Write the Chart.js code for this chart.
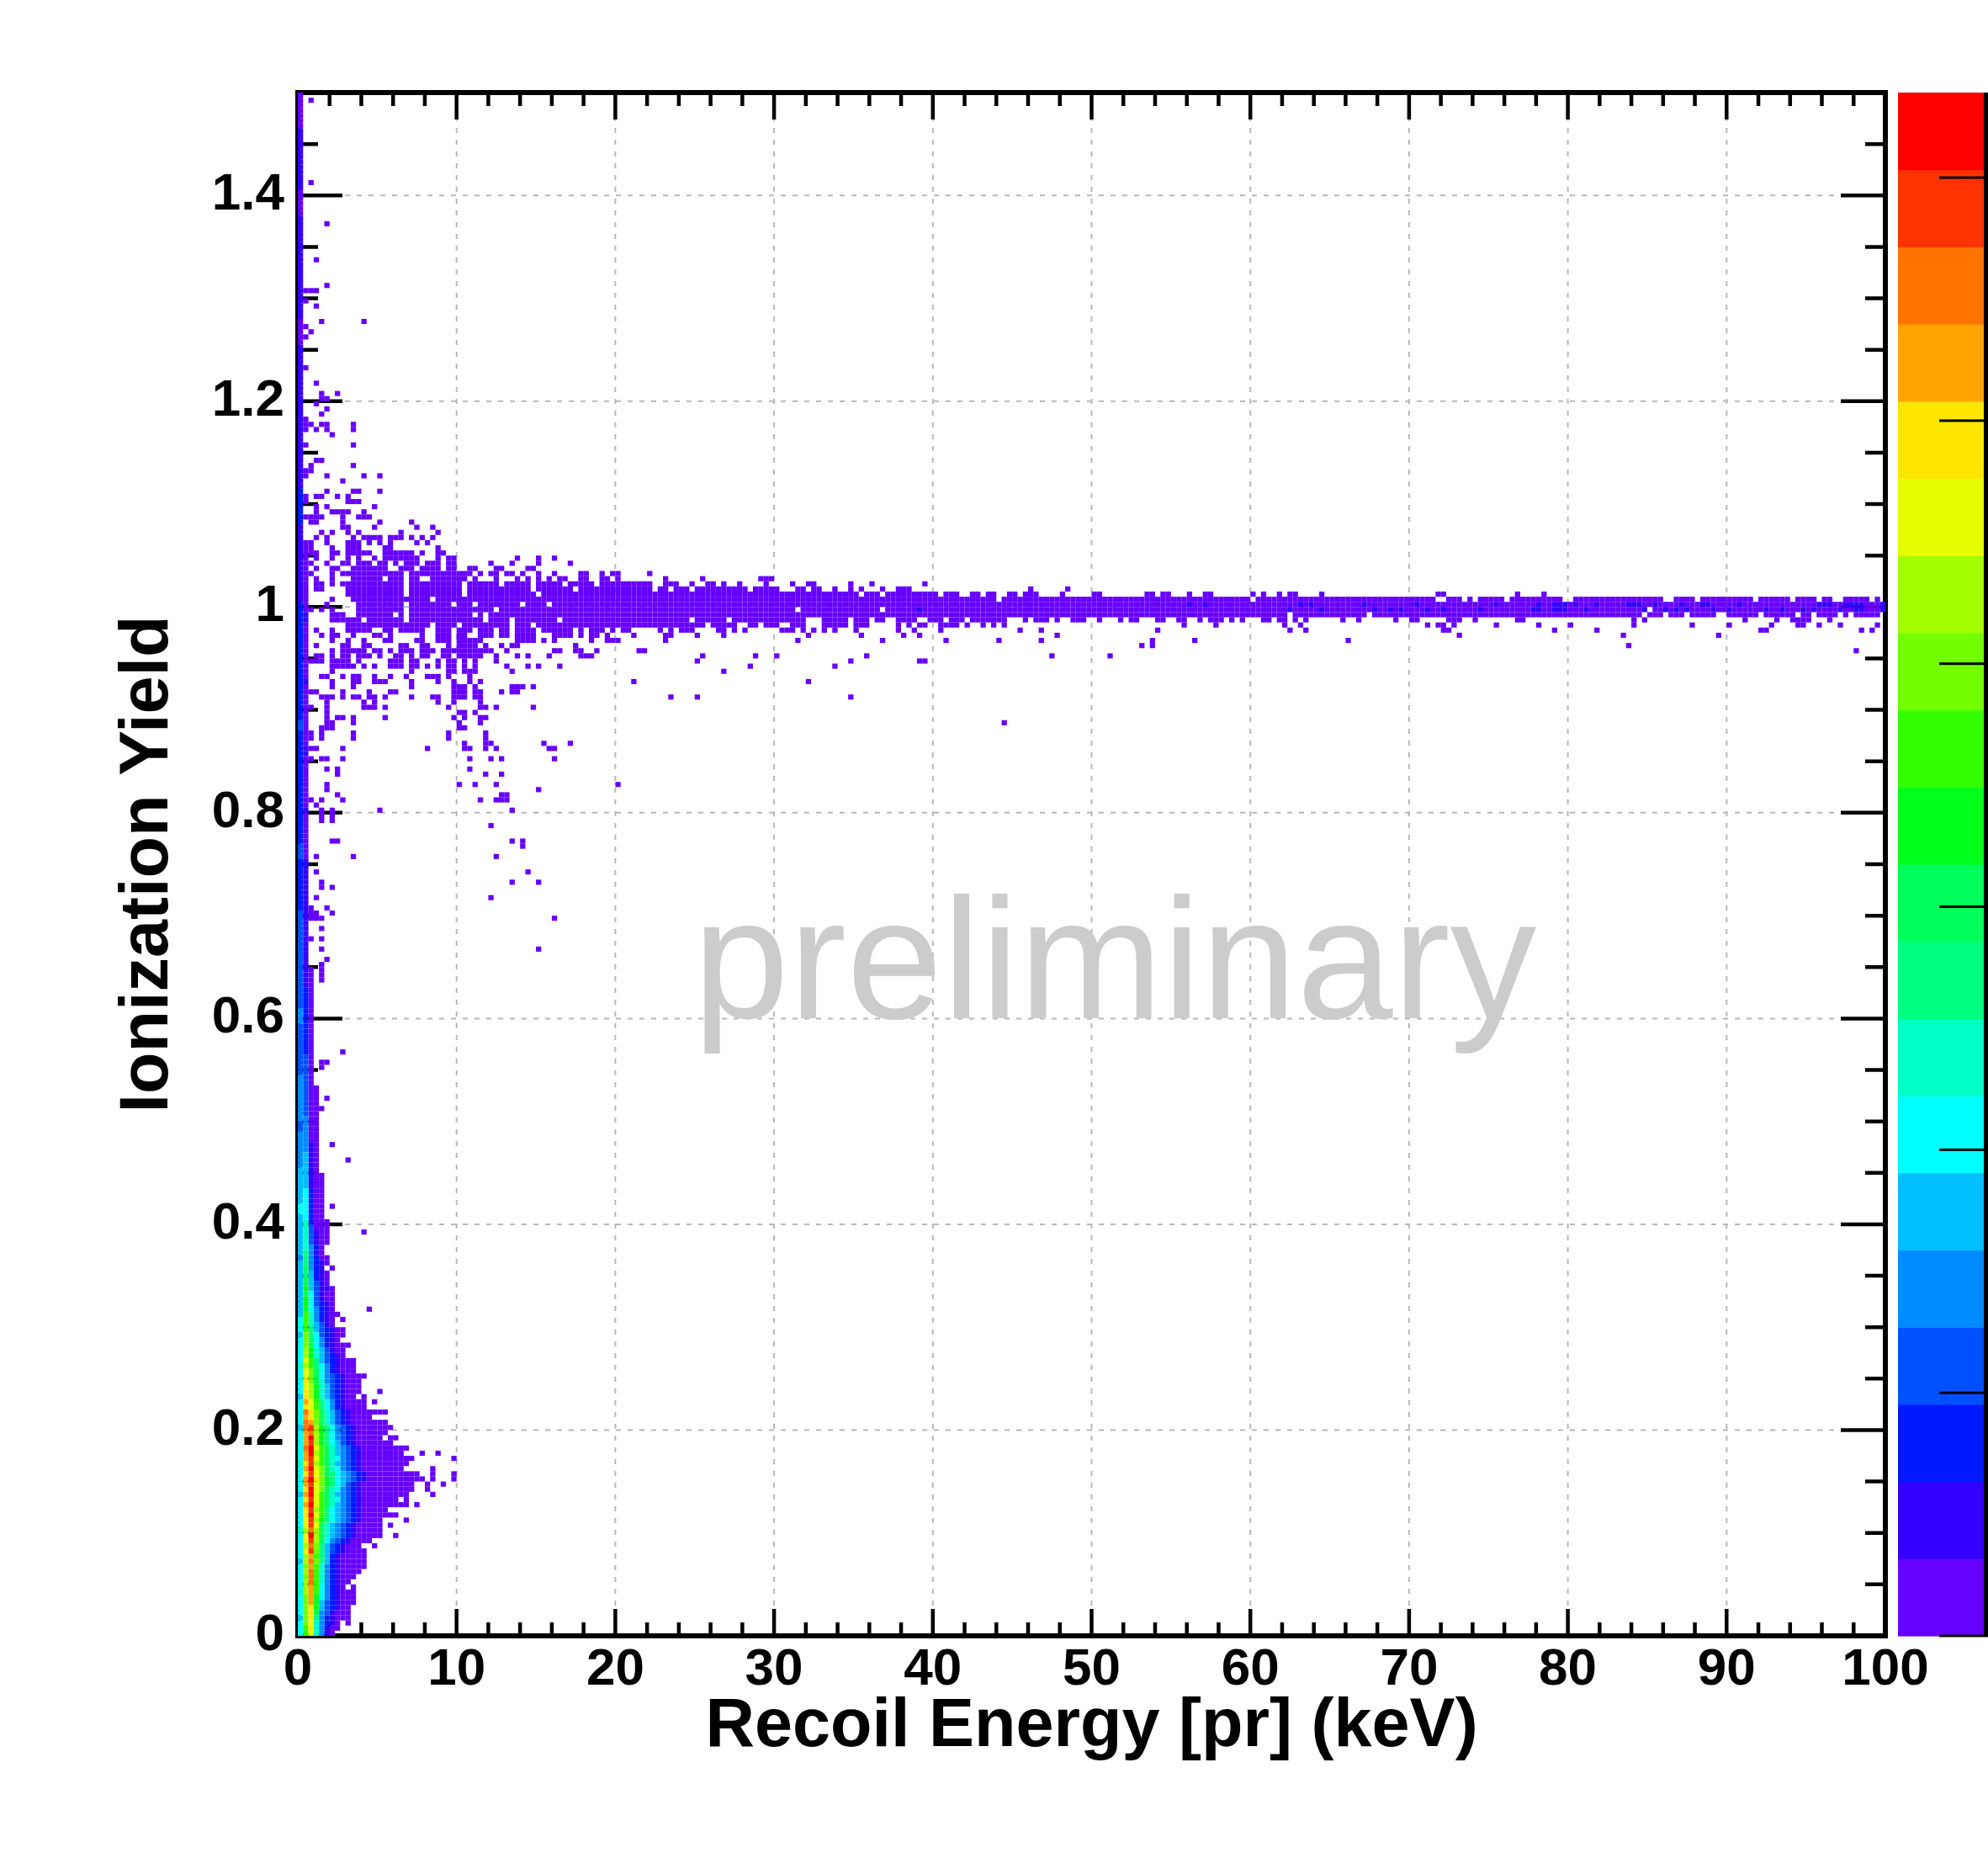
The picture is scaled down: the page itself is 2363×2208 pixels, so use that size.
<!DOCTYPE html>
<html>
<head>
<meta charset="utf-8">
<script src="https://cdn.jsdelivr.net/npm/chart.js@4.4.1/dist/chart.umd.min.js"></script>
<style>
html,body{margin:0;padding:0;background:#ffffff;overflow:hidden;}
#wrap{width:2363px;height:2208px;}
</style>
</head>
<body>
<div id="wrap"><canvas id="c" width="2363" height="2208"></canvas></div>
<script>
// ---------------- histogram definition ----------------
const X_RANGE = [0, 100], X_BINS = 300;   // keV
const Y_RANGE = [0, 1.5], Y_BINS = 300;   // ionization yield
const Z_MAX = 127;                        // colour-scale maximum (counts)

// ROOT rainbow palette, 20 contour levels (bottom -> top)
const paletteColors = ['#6600ff','#3300ff','#0019ff','#0050ff','#008cff','#00bfff','#00ffff','#00ffc8',
  '#00ff80','#00ff5a','#00ff1a','#33ff00','#73ff00','#a3ff00','#e6ff00','#ffe600','#ffa300','#ff7300','#ff3300','#ff0000'];

const xTickValues = [0,10,20,30,40,50,60,70,80,90,100];
const xTickLabels = ['0','10','20','30','40','50','60','70','80','90','100'];
const yTickValues = [0,0.2,0.4,0.6,0.8,1,1.2,1.4];
const yTickLabels = ['0','0.2','0.4','0.6','0.8','1','1.2','1.4'];
const zTickValues = [0,20,40,60,80,100,120];

const xTitle = 'Recoil Energy [pr] (keV)';
const yTitle = 'Ionization Yield';
const watermarkText = 'preliminary';
const watermarkAt = [24.9, 0.6];

// Low-energy nuclear-recoil blob: one string per y-bin (iy = 0..75), one char per x-bin
// (ix = 0..), char = colour level in base 20, '.' = empty bin
const blobRows = [
  "6be7410","6bf74100","6ce74210.0","5cf8421000","6cf9431000","6cfa532100","6cga5321000","6cga6421000",
  "7dgb6421000","6dgb64210.0","6dhb742100","6chb7421000","6dhb74210000","6cgb742100000","5dhc852100000","6dgb852100000",
  "6eic853210000","6dhc85321000..0","6eid9643210000","6ejd975432100000..0","7dhd975432100000","6eie975432100000.0",
  "6eida86543210000....0","6fjeb86543210000000","6fidb865432100000","6gjeb9754321000000000.0","6fieb97643210000000.0",
  "5gjeb9754321000000000....0","6fjec97643210000000000..0","6gieca8653210000000000..0..0","6gjfca865432100000000000.0...0",
  "6fiec986543210000000000..0...0","6gjec976432100000000.....0","7fidb9754321000000000","6gieb97643210000000000.......0",
  "6gjdb975432100000000...0..0","6hjeb9754321000000000","6gida8653210000000","6gjda86432100000.00","6ghda864321000000",
  "5hida8643210000000","6hgc9753210000000","6gfc9753210000","6hfc9753210000000","6feb864210000","6geb864210000.0",
  "5fda7532100.0","6fda75321000...0","6eda75321000","6fc974321000","6ec9643210000","6ec96421000","7db86421000",
  "6eb85321000","6da753210","6da753100","6c96421000","6c964210","5c8632100","6b8532100","6b75310","6b74210.0",
  "5b742100","5a64210......0","5a63210","5a63100","5963100","5a53110","595310","595210","585210","59421.0",
  "584210","484200","58410","57420"
];

// Continuous vertical runs above the blob: [ix, iyFrom, iyTo, level]
const columnRuns = [
  [0,76,81,5],[0,82,83,6],[0,84,90,5],[0,91,97,4],[0,98,99,3],[0,100,108,4],[0,109,118,3],[0,119,121,4],
  [0,122,140,3],[0,141,150,2],[0,151,153,3],[0,154,175,2],[0,176,177,3],[0,178,200,2],[0,201,215,1],
  [0,216,222,2],[0,223,250,1],[0,251,255,0],[0,256,275,1],[0,276,280,0],[0,281,292,1],[0,293,299,0],
  [1,76,80,7],[1,81,86,6],[1,87,93,5],[1,94,100,4],[1,101,112,3],[1,113,125,2],[1,126,150,1],[1,151,206,0],
  [1,160,160,1],[1,171,172,1],[1,185,185,1],[1,197,198,1],
  [2,76,79,3],[2,80,86,2],[2,87,95,1],[2,96,127,0],
  [3,76,78,1],[3,79,106,0],
  [4,76,89,0],
  [5,76,80,0]
];

// Occupied bins at the lowest colour level, per y-bin: [iy, "ix ix-ix ..."]
const sparseRows = [
  [298,"2"],[282,"2"],[274,"5"],[267,"3"],[262,"5"],[261,"1-3"],[259,"1"],[258,"3"],[255,"4 12"],[254,"1"],
  [253,"2"],[252,"1"],[246,"1"],[243,"3"],[241,"4 7"],[240,"4-5"],[239,"3"],[238,"5"],[237,"4"],[236,"1"],
  [235,"1-2 4-5 10"],[234,"1 3 5 10"],[233,"6"],[231,"1 10"],[228,"3-4"],[227,"2 10"],[226,"1-2"],
  [225,"1 5 12 15"],[224,"8"],[222,"5 10-11 15"],[221,"1 3-4 7 9"],[220,"1 9-11"],[219,"3 5 14"],
  [218,"3 6-9 12"],[217,"1-4 8 11-13"],[216,"2-3 8 15 21"],[215,"8-9 14 22 25"],[214,"4 6 9 11 19 26"],
  [213,"3 5 10 12-15 17-19 21 23 25"],
  [212,"1-2 5 9-11 13 15 17 22 24"],
  [211,"1-2 6 9-11 16-17 26"],
  [210,"1-3 6-7 9-13 16-21 23 26-27"],
  [209,"1 3 6 9 11 14 16-22 26 28-29 41 45 48"],
  [208,"1-2 5 8-9 11-13 15-16 18 20-22 24-26 28-29 36 40 45 51"],
  [207,"1 3 6-7 10-16 19-21 23-26 28-29 32-33 37-38 43-44"],
  [206,"1-2 6 8-19 21-32 34 36-37 39-40 42 45 48 53-54 57 59-60 66"],
  [205,"1 3 6 10-15 17-19 21-22 25-31 33 37 41 43 45 47 49-50 53-54 57-58 60 69 76 87-89"],
  [204,"1 3-4 6 8-19 21-30 32-37 39-43 45-49 51-55 57-66 69-71 74 77-78 80 83 88 93 96-97 104 108 118"],
  [203,"1 3-4 9-19 21-30 32-43 45-51 53-66 68-69 71-73 75-84 86-90 94-95 97-98 101 104 106 110 113-115 138 145"],
  [202,"1 9-19 21-30 32-44 46-105 107-109 111-120 122-124 127-128 130-131 134-135 137-139 144 150-151 160-161 163-164 168 171-172 180 182 185 187-188 193 215-216 230 235"],
  [201,"1 6 10-24 26-131 133-179 181-214 217-219 221 223-227 229-238 241-257 260-263 265-274 276-281 283-286 288-289 292-296 298"],
  [200,"1 5 11-19 21-28 30-32 34-41 43-46 48-299"],
  [199,"1-2 4 6 11-19 21-36 38-93 95-109 111-254 256-299"],
  [198,"1 6-8 11-17 19 21-32 34 36-186 188-201 203-253 255-257 259-261 263-267 270-275 277-282 284-285 287-290 292 294-298"],
  [197,"1 6-11 13-19 21-34 36-39 41-48 50-73 75-80 82-95 99-103 105-107 109-110 113-116 119-121 123-125 127-133 137 139-141 143 146-148 151 155 157-158 162-163 166-167 170 172-174 176 178 182-183 185-186 188 190 197 200 207 210-211 217-219 222 230-231 252 254 273 279 282-285 289"],
  [196,"1 9-24 26-29 31-39 41-43 45-76 78-82 85-86 88-90 93-95 99-103 105-107 113 115 117-118 121-124 126 129 131 133 167 173 186 189 213 215-216 218 226 234 240 252 263 270 278 283-284 287 291 298"],
  [195,"1 3 6 9-13 16-17 19-23 26-28 30-32 34-36 38-39 41-44 46-51 53 55-57 59 61-62 68 70 72-74 79-80 82 84 91-93 95 97 99 101 105 113 116 121 136 140 162 187 190 216-217 237 245 276-277 295 297"],
  [194,"1 4 6-7 10 14-15 17 23 26-28 30-31 34-36 38-39 41-44 48-51 53 55-56 58 63 69-70 75 80 96 106 114 117 143 219 250 268"],
  [193,"1 6 9 12 16-17 22-23 26-28 30-34 41-44 46 48 55 58-60 69 94 110 122 132 140 161 169 198"],
  [192,"1 3 8-9 12-13 19-20 23-24 28 30-33 35 38 40-41 52 159 161 251"],
  [191,"1 6 8-12 14-15 17 19-21 23-25 27-36 39 48-49 52-53 56 64-65 294"],
  [190,"1 3-4 6 8-9 11-13 15 18-19 21 23-24 27-28 30-34 37 41 43 47 53-55 76 86 90 107 142 153"],
  [189,"1-4 6-9 11 17-19 21-22 26 28-29 31 33 37 75 104 117-118"],
  [188,"1 6-10 12 14 17-19 21-22 24 26 28-29 31 33 39 43 45 49 85 101"],
  [187,"6 21 28-29 31-33 40 80"],
  [186,"4-5 8 10-11 14 17 20 24-26 28 32"],
  [185,"6 10-11 14-16 21 26 29 32 34 63 96"],
  [184,"6 10 21 29-31 33 40-42 44"],
  [183,"2-3 8 13 17-18 29-31 33-34 38 40-41"],
  [182,"4-6 8 10-11 13-14 16 21 25-26 29-31 33-34 70 75 104"],
  [181,"5 12 14 26 29 34"],
  [180,"2 5 12-14 16 28 34-35 37 44"],
  [179,"5 30-31 33"],
  [178,"5 7-8 10 16 29 31 34-35"],
  [177,"5-6 10 30 34 133"],
  [176,"4-6 30-31"],
  [175,"2 4 10 28 35"],
  [174,"2 4 10 28 35"],
  [173,"31 35-36 46 51"],
  [172,"2-3 8 24 31-32 35 37 47-48"],
  [170,"2 4-5 8 32 36 38 48"],
  [168,"5 7 32"],
  [167,"7 35 38"],
  [165,"5 30 33 37 60"],
  [164,"5 45"],
  [163,"7 38-39"],
  [162,"2 4 8 34 37-39"],
  [161,"3"],
  [160,"4 6 15 40"],
  [159,"4 6"],
  [158,"4 6"],
  [157,"36"],
  [154,"6-7 40 42"],
  [153,"42"],
  [151,"3 10 37"],
  [148,"3 43"],
  [146,"4 40 45"],
  [145,"4 6"],
  [143,"3 36"],
  [141,"2 5"],
  [140,"2-3 6"],
  [139,"2-4 48"],
  [137,"4"],
  [135,"2 4"],
  [133,"4 45"],
  [131,"5"],
  [130,"4"],
  [129,"2 4"],
  [128,"2 4"],
  [127,"2 4"],
  [113,"8"],
  [111,"4-5"],
  [110,"4"],
  [104,"5"],
  [102,"4"],
  [95,"6"],
  [92,"9"],
  [83,"6"],
  [78,"12"]
];

// Bins in the Y~1 band at the second colour level: [iy, "ix ..."]
const levelOneRows = [
  [200,"168 171 189 191 201 211 226 234 237-239 241 245 251-253 256 261 265-266 272 287-289 292-295 299"],
  [199,"117 187 193 203 206 208 213 216 223 233-234 237-239 243 254 258 260 262 267 270 277 280 284 286 291 294-295 299"]
];

// ---------------- build datasets ----------------
const BW = (X_RANGE[1] - X_RANGE[0]) / X_BINS;
const BH = (Y_RANGE[1] - Y_RANGE[0]) / Y_BINS;
function expand(s) {
  const out = [];
  s.trim().split(/\s+/).forEach(tok => {
    const parts = tok.split('-').map(Number);
    const a = parts[0], b = parts.length > 1 ? parts[1] : parts[0];
    for (let i = a; i <= b; i++) out.push(i);
  });
  return out;
}
const cellMap = new Map();
sparseRows.forEach(([iy, s]) => expand(s).forEach(ix => cellMap.set(iy * X_BINS + ix, 0)));
columnRuns.forEach(([ix, a, b, lv]) => { for (let iy = a; iy <= b; iy++) cellMap.set(iy * X_BINS + ix, lv); });
blobRows.forEach((s, iy) => { for (let ix = 0; ix < s.length; ix++) { const ch = s[ix]; if (ch !== '.') cellMap.set(iy * X_BINS + ix, parseInt(ch, 20)); } });
levelOneRows.forEach(([iy, s]) => expand(s).forEach(ix => cellMap.set(iy * X_BINS + ix, 1)));

const datasets = paletteColors.map((c, lv) => ({
  label: 'level ' + lv, data: [], backgroundColor: c, borderColor: c, pointRadius: 0, pointHoverRadius: 0
}));
cellMap.forEach((lv, key) => {
  const ix = key % X_BINS, iy = Math.floor(key / X_BINS);
  datasets[lv].data.push({ x: X_RANGE[0] + (ix + 0.5) * BW, y: Y_RANGE[0] + (iy + 0.5) * BH });
});

// ---------------- drawing plugin (ROOT-like frame, grid, colz cells, palette) ----------------
const FONT = '"Liberation Sans", Arial, Helvetica, sans-serif';
const histPlugin = {
  id: 'histColz',
  beforeDatasetsDraw(chart) {
    const { ctx, chartArea: a, scales: { x: xs, y: ys } } = chart;
    ctx.save();
    // dashed grid
    ctx.strokeStyle = '#b8b8b8'; ctx.lineWidth = 2; ctx.setLineDash([6, 8]);
    xTickValues.forEach(v => {
      const px = xs.getPixelForValue(v);
      if (px > a.left + 4 && px < a.right - 4) { ctx.beginPath(); ctx.moveTo(px, a.top); ctx.lineTo(px, a.bottom); ctx.stroke(); }
    });
    yTickValues.forEach(v => {
      const py = ys.getPixelForValue(v);
      if (py > a.top + 4 && py < a.bottom - 4) { ctx.beginPath(); ctx.moveTo(a.left, py); ctx.lineTo(a.right, py); ctx.stroke(); }
    });
    ctx.setLineDash([]);
    // inward ticks on all four sides
    ctx.strokeStyle = '#000'; ctx.lineWidth = 4.5;
    for (let i = 0; i <= 50; i++) {
      const v = X_RANGE[0] + i * 2, px = xs.getPixelForValue(v), len = (i % 5 === 0) ? 32 : 16;
      ctx.beginPath(); ctx.moveTo(px, a.bottom); ctx.lineTo(px, a.bottom - len);
      ctx.moveTo(px, a.top); ctx.lineTo(px, a.top + len); ctx.stroke();
    }
    for (let i = 0; i <= 30; i++) {
      const v = Y_RANGE[0] + i * 0.05, py = ys.getPixelForValue(v), len = (i % 4 === 0) ? 53 : 24;
      ctx.beginPath(); ctx.moveTo(a.left, py); ctx.lineTo(a.left + len, py);
      ctx.moveTo(a.right, py); ctx.lineTo(a.right - len, py); ctx.stroke();
    }
    // frame
    ctx.lineWidth = 6;
    ctx.strokeRect(a.left, a.top, a.right - a.left, a.bottom - a.top);
    // colz cells
    ctx.beginPath(); ctx.rect(a.left, a.top, a.right - a.left, a.bottom - a.top); ctx.clip();
    chart.data.datasets.forEach(ds => {
      ctx.fillStyle = ds.backgroundColor;
      ds.data.forEach(p => {
        const x0 = xs.getPixelForValue(p.x - BW / 2), x1 = xs.getPixelForValue(p.x + BW / 2);
        const y0 = ys.getPixelForValue(p.y + BH / 2), y1 = ys.getPixelForValue(p.y - BH / 2);
        ctx.fillRect(x0, y0, x1 - x0, y1 - y0);
      });
    });
    ctx.restore();
  },
  afterDatasetsDraw(chart) {
    const { ctx, chartArea: a, scales: { x: xs, y: ys } } = chart;
    ctx.save();
    // watermark
    ctx.font = '205px ' + FONT;
    ctx.fillStyle = '#cccccc'; ctx.textAlign = 'left'; ctx.textBaseline = 'alphabetic';
    ctx.fillText(watermarkText, xs.getPixelForValue(watermarkAt[0]), ys.getPixelForValue(watermarkAt[1]));
    // palette (colour bar)
    const cbL = a.right + 15, cbR = chart.width, cbT = a.top, cbB = a.bottom;
    const h = (cbB - cbT) / paletteColors.length;
    paletteColors.forEach((c, k) => { ctx.fillStyle = c; ctx.fillRect(cbL, cbB - (k + 1) * h, cbR - cbL, h + 0.6); });
    ctx.fillStyle = '#000';
    ctx.fillRect(cbR - 5, cbT, 5, cbB - cbT);
    zTickValues.forEach(z => {
      const yy = cbB - (z / Z_MAX) * (cbB - cbT);
      ctx.fillRect(cbR - 58, yy - 1.5, 58, 3);
    });
    ctx.restore();
  }
};

Chart.defaults.font.family = FONT;
new Chart(document.getElementById('c'), {
  type: 'scatter',
  data: { datasets },
  options: {
    responsive: false,
    devicePixelRatio: 1,
    animation: false,
    events: [],
    layout: { padding: { top: 110, right: 122, bottom: 0, left: 0 } },
    plugins: { legend: { display: false }, tooltip: { enabled: false } },
    scales: {
      x: {
        type: 'linear', position: 'bottom', min: X_RANGE[0], max: X_RANGE[1],
        afterFit: s => { s.height = 264; },
        afterBuildTicks: s => { s.ticks = xTickValues.map(v => ({ value: v })); },
        grid: { display: false, drawTicks: false }, border: { display: false },
        ticks: { autoSkip: false, maxRotation: 0, padding: 10, color: '#000',
          font: { size: 62, weight: 'bold', lineHeight: 1 }, callback: (v, i) => xTickLabels[i] },
        title: { display: true, text: xTitle, color: '#000',
          font: { size: 81, weight: 'bold', lineHeight: 1 }, padding: { top: 0, bottom: 115 } }
      },
      y: {
        type: 'linear', position: 'left', min: Y_RANGE[0], max: Y_RANGE[1],
        afterFit: s => { s.width = 354; },
        afterBuildTicks: s => { s.ticks = yTickValues.map(v => ({ value: v })); },
        grid: { display: false, drawTicks: false }, border: { display: false },
        ticks: { autoSkip: false, padding: 16, color: '#000',
          font: { size: 62, weight: 'bold', lineHeight: 1 }, callback: (v, i) => yTickLabels[i] },
        title: { display: true, text: yTitle, color: '#000',
          font: { size: 81, weight: 'bold', lineHeight: 1 }, padding: { top: 136, bottom: 0 } }
      }
    }
  },
  plugins: [histPlugin]
});
</script>
</body>
</html>
